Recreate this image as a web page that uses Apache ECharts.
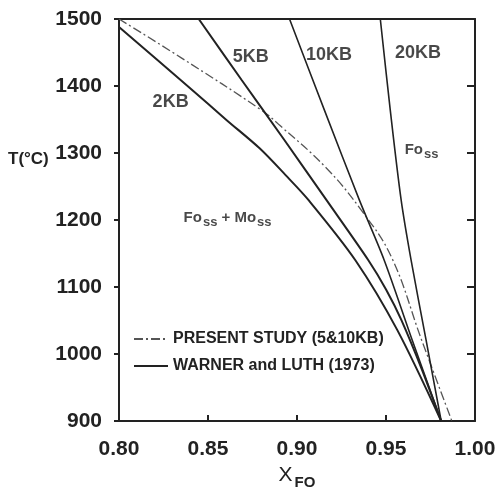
<!DOCTYPE html>
<html>
<head>
<meta charset="utf-8">
<script src="https://cdn.jsdelivr.net/npm/echarts@6/dist/echarts.min.js"></script>
<style>
html, body { margin: 0; padding: 0; background: #fff; }
#container { width: 503px; height: 497px; }
</style>
</head>
<body>
<div id="container"></div>
<script>
let chart = echarts.init(document.getElementById('container'));

// Warner and Luth (1973) solvus curves
let xfo2kb  = [0.800, 0.8398, 0.8605, 0.8790, 0.8936, 0.9064, 0.9328, 0.9563, 0.981];
let t2kb    = [1488, 1397, 1349, 1307, 1267, 1230, 1140, 1036, 900];
let xfo5kb  = [0.8448, 0.8689, 0.8930, 0.9165, 0.9401, 0.9501, 0.9586, 0.9703, 0.981];
let t5kb    = [1500, 1409, 1319, 1230, 1140, 1096, 1051, 976, 900];
let xfo10kb = [0.8958, 0.9154, 0.9350, 0.9490, 0.9647, 0.981];
let t10kb   = [1500, 1364, 1230, 1140, 1021, 900];
let xfo20kb = [0.9468, 0.9524, 0.9585, 0.9641, 0.9725, 0.981];
let t20kb   = [1500, 1364, 1230, 1140, 1021, 900];
// present study (5 & 10 kb)
let xfoStudy = [0.800, 0.835, 0.880, 0.890, 0.916, 0.936, 0.953, 0.970, 0.987];
let tStudy   = [1500, 1442, 1364, 1342, 1279, 1215, 1145, 1021, 900];

// text placed inside the plot
let curveLabels = ['2KB', '5KB', '10KB', '20KB', '{n|Fo}{s|ss}', '{n|Fo}{s|ss}{n| + Mo}{s|ss}'];
let labelX      = [0.829, 0.874, 0.918, 0.968, 0.970, 0.861];
let labelT      = [1376, 1443, 1446, 1449, 1304, 1203];

let xTicks = { min: 0.80, max: 1.00, interval: 0.05 };
let yTicks = { min: 900, max: 1500, interval: 100 };

let seriesStudy = 'PRESENT STUDY (5&10KB)';
let seriesWL = 'WARNER and LUTH (1973)';

let ink = '#222';
let font = 'Liberation Sans, Arial, sans-serif';

function pairs(xs, ts) {
    return xs.map((x, i) => [x, ts[i]]);
}

function solid(xs, ts, w) {
    return {
        type: 'line', name: seriesWL, data: pairs(xs, ts),
        symbol: 'none', smooth: 0.3, animation: false,
        lineStyle: { color: ink, width: w }, itemStyle: { color: ink }
    };
}

let axisLine = { show: true, lineStyle: { color: ink, width: 2 } };

let option = {
    backgroundColor: '#fff',
    textStyle: { fontFamily: font },
    grid: { left: 119, right: 28, top: 19, bottom: 76 },
    legend: {
        data: [seriesStudy, seriesWL],
        orient: 'vertical',
        left: 133, top: 331, padding: 0,
        itemWidth: 34, itemHeight: 14, itemGap: 11,
        selectedMode: false,
        itemStyle: { opacity: 0 },
        textStyle: { fontSize: 16, fontWeight: 'bold', color: ink, fontFamily: font }
    },
    xAxis: [{
        type: 'value', position: 'bottom',
        min: xTicks.min, max: xTicks.max, interval: xTicks.interval,
        axisLine: axisLine,
        axisTick: { inside: true, length: 6, lineStyle: { color: ink, width: 2 } },
        axisLabel: {
            formatter: v => v.toFixed(2), fontSize: 21, fontWeight: 'bold',
            color: ink, margin: 18, fontFamily: font
        },
        splitLine: { show: false },
        name: '{x|X}{s|FO}', nameLocation: 'middle', nameGap: 40,
        nameTextStyle: {
            rich: {
                x: { fontSize: 21, color: ink, fontFamily: font },
                s: { fontSize: 15, fontWeight: 'bold', color: ink, fontFamily: font, padding: [14, 0, 0, 2] }
            }
        }
    }, {
        type: 'value', position: 'top',
        min: xTicks.min, max: xTicks.max, interval: xTicks.interval,
        axisLine: axisLine, axisTick: { show: false }, axisLabel: { show: false },
        splitLine: { show: false }
    }],
    yAxis: [{
        type: 'value', position: 'left',
        min: yTicks.min, max: yTicks.max, interval: yTicks.interval,
        axisLine: axisLine,
        axisTick: { inside: false, length: 5, lineStyle: { color: ink, width: 2 } },
        axisLabel: {
            formatter: v => String(v), fontSize: 21, fontWeight: 'bold',
            color: ink, margin: 17, fontFamily: font
        },
        splitLine: { show: false }
    }, {
        type: 'value', position: 'right',
        min: yTicks.min, max: yTicks.max, interval: yTicks.interval,
        axisLine: axisLine,
        axisTick: { inside: true, length: 8, lineStyle: { color: ink, width: 2 } },
        axisLabel: { show: false },
        splitLine: { show: false }
    }],
    graphic: [{
        type: 'text', left: 8, top: 151,
        style: { text: 'T(°C)', fontSize: 17, fontWeight: 'bold', fill: ink, fontFamily: font }
    }],
    series: [
        {
            type: 'line', name: seriesStudy, data: pairs(xfoStudy, tStudy),
            symbol: 'none', smooth: 0.4, animation: false,
            lineStyle: { color: '#555', width: 1.3, type: [9, 3, 2, 3] },
            itemStyle: { color: '#555' }
        },
        solid(xfo2kb, t2kb, 2),
        solid(xfo5kb, t5kb, 2),
        solid(xfo10kb, t10kb, 1.6),
        solid(xfo20kb, t20kb, 1.6),
        {
            type: 'scatter', data: pairs(labelX, labelT),
            symbolSize: 1, itemStyle: { color: 'rgba(0,0,0,0)' }, animation: false, silent: true,
            label: {
                show: true, position: 'inside',
                formatter: p => curveLabels[p.dataIndex],
                fontSize: 18, fontWeight: 'bold', color: '#1a1a1a', fontFamily: font,
                rich: {
                    n: { fontSize: 15, color: '#1a1a1a', fontFamily: font },
                    s: { fontSize: 13, fontWeight: 'bold', color: '#1a1a1a', fontFamily: font, padding: [9, 0, 0, 1] }
                }
            }
        }
    ]
};

chart.setOption(option);
</script>
</body>
</html>
